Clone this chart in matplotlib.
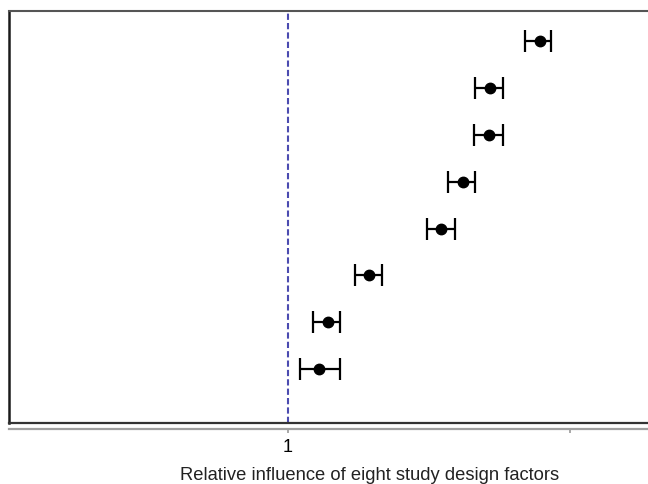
import numpy as np
import matplotlib.pyplot as plt

plt.rcParams["font.family"] = ["Liberation Sans", "DejaVu Sans"]

# =========================
# data
# =========================
factors = [1, 2, 3, 4, 5, 6, 7, 8]          # row position, bottom to top
estimate = [1.110, 1.142, 1.287, 1.543, 1.621, 1.713, 1.716, 1.894]
ci_low   = [1.043, 1.089, 1.238, 1.493, 1.567, 1.660, 1.663, 1.840]
ci_high  = [1.184, 1.184, 1.333, 1.592, 1.663, 1.762, 1.762, 1.933]
ref_value = 1.0
x_ticks = [1, 2]
x_ticklabels = ["1", ""]
x_label = "Relative influence of eight study design factors"

# =========================
# figure
# =========================
fig = plt.figure(figsize=(6.48, 4.85), dpi=100)
ax = fig.add_axes([9 / 648, 61 / 485, 1 - 9 / 648, 412 / 485])

est = np.array(estimate)
err = np.vstack([est - np.array(ci_low), np.array(ci_high) - est])

ax.errorbar(estimate, factors, xerr=err, fmt="o", color="black",
            markersize=7.5, elinewidth=1.6, capsize=8, capthick=1.6,
            zorder=3)
ax.axvline(ref_value, color="#4b4bb0", lw=1.5, ls=(0, (3, 1.5)), zorder=2)

ax.set_xlim(0.0106, 2.277)
ax.set_ylim(-0.14, 8.63)
ax.set_yticks([])

# box: left, top and bottom lines
ax.spines["right"].set_visible(False)
ax.spines["left"].set_color("#1a1a1a")
ax.spines["left"].set_linewidth(1.8)
ax.spines["top"].set_color("#555555")
ax.spines["top"].set_linewidth(1.5)
ax.plot([0, 1], [0, 0], transform=ax.transAxes, color="#333333",
        lw=1.6, clip_on=False, zorder=5)

# separate x axis line below the box
ax.spines["bottom"].set_position(("outward", 4))
ax.spines["bottom"].set_color("#a0a0a0")
ax.spines["bottom"].set_linewidth(1.6)
ax.set_xticks(x_ticks)
ax.set_xticklabels(x_ticklabels)
ax.tick_params(axis="x", length=3, width=1.2, color="#999999",
               labelsize=13, pad=4)

fig.text(370 / 648, 1 - 476 / 485, x_label, ha="center", va="center",
         fontsize=13.2, color="#222222")

fig.savefig("out.png", dpi=100)
